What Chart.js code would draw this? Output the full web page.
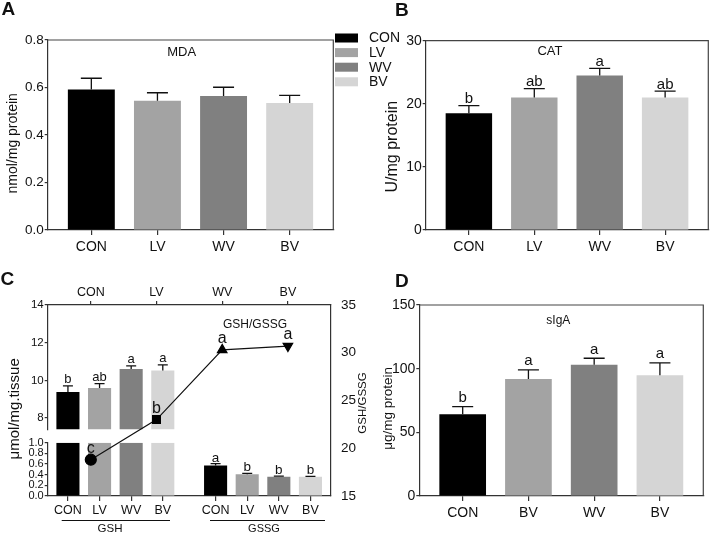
<!DOCTYPE html>
<html>
<head>
<meta charset="utf-8">
<script src="https://cdn.jsdelivr.net/npm/chart.js@4.4.1/dist/chart.umd.min.js"></script>
<style>
  html, body { margin: 0; padding: 0; background: #fff; }
  #wrap { position: relative; width: 711px; height: 533px; }
  #wrap canvas { position: absolute; left: 0; top: 0; }
</style>
</head>
<body>
<div id="wrap">
  <canvas id="chartA" width="711" height="533"></canvas>
  <canvas id="chartB" width="711" height="533"></canvas>
  <canvas id="chartC" width="711" height="533"></canvas>
  <canvas id="chartD" width="711" height="533"></canvas>
</div>
<script>
// Группы и цвета
const groups = ["CON", "LV", "WV", "BV"];
const groupsD = ["CON", "BV", "WV", "BV"];
const barColors = ["#000000", "#a3a3a3", "#808080", "#d5d5d5"];

// A: MDA
const mdaMean = [0.592, 0.544, 0.564, 0.535];
const mdaErr = [0.047, 0.034, 0.037, 0.032];

// B: CAT
const catMean = [18.5, 21.0, 24.5, 21.0];
const catErr = [1.2, 1.4, 1.1, 1.0];
const catLetters = ["b", "ab", "a", "ab"];

// C: GSH, GSSG и отношение GSH/GSSG
const gshMean = [9.38, 9.59, 10.6, 10.52];
const gshErr = [0.33, 0.24, 0.17, 0.30];
const gshLetters = ["b", "ab", "a", "a"];
const gssgMean = [0.575, 0.41, 0.36, 0.36];
const gssgErr = [0.035, 0.015, 0.015, 0.01];
const gssgLetters = ["a", "b", "b", "b"];
const ratio = [18.8, 23.0, 30.3, 30.7];
const ratioLetters = ["c", "b", "a", "a"];
const gshTopTicks = [8, 10, 12, 14];
const gshBotTicks = [0, 0.2, 0.4, 0.6, 0.8, 1.0];

// D: sIgA
const igaMean = [64.2, 91.9, 103.1, 94.8];
const igaErr = [6.0, 7.1, 5.1, 9.7];
const igaLetters = ["b", "a", "a", "a"];

const FONT = 'Arial, "Liberation Sans", Helvetica, sans-serif';
const AXIS = "#333";
const gssgShift = 4.67; // разрыв между группами GSH и GSSG на панели C

Chart.defaults.font.family = FONT;
Chart.defaults.color = "#111";
Chart.defaults.animation = false;
Chart.defaults.responsive = false;
Chart.defaults.plugins.legend.display = false;
Chart.defaults.plugins.tooltip.enabled = false;

// Ось категорий на линейной шкале
function catAxis(labels, positions, lo, hi, o) {
    return {
        type: "linear", position: o.position || "bottom", min: lo, max: hi, offset: false,
        afterBuildTicks: s => { s.ticks = positions.map(v => ({ value: v })); },
        afterFit: s => { s.height = o.height; },
        ticks: { autoSkip: false, maxRotation: 0, padding: o.pad, font: { size: o.size }, callback: (v, i) => labels[i] },
        grid: { offset: false, drawOnChartArea: false, tickLength: o.tick, color: AXIS, lineWidth: 1.2 },
        border: { color: AXIS, width: 1.2 }
    };
}

// Ось значений
function valAxis(o) {
    return {
        type: "linear", position: o.position || "left", min: o.min, max: o.max, beginAtZero: false,
        stack: o.stack, stackWeight: o.stackWeight, weight: o.weight || 0,
        afterFit: s => { s.width = o.width; },
        afterBuildTicks: o.tickValues ? s => { s.ticks = o.tickValues.map(v => ({ value: v })); } : undefined,
        ticks: { display: o.showTicks !== false, autoSkip: false, padding: o.pad, stepSize: o.step, font: { size: o.size }, callback: o.fmt },
        grid: { display: o.grid !== false, drawOnChartArea: false, drawTicks: o.tick > 0, tickLength: o.tick || 0, color: AXIS, lineWidth: 1.2 },
        border: { display: o.border !== false, color: AXIS, width: 1.2 }
    };
}

// Планки погрешностей и буквы значимости
const errorBars = {
    id: "errorBars",
    afterDatasetsDraw(chart) {
        const ctx = chart.ctx;
        chart.data.datasets.forEach((ds, di) => {
            if (!ds.errors && !ds.letters) return;
            const meta = chart.getDatasetMeta(di);
            const ys = chart.scales[meta.yAxisID];
            ctx.save();
            ctx.strokeStyle = "#111";
            ctx.lineWidth = 1.3;
            meta.data.forEach((el, i) => {
                let top = el.y;
                if (ds.errors) {
                    top = ys.getPixelForValue(ds.data[i].y + ds.errors[i]);
                    const half = ds.capWidth / 2;
                    ctx.beginPath();
                    ctx.moveTo(el.x, el.y);
                    ctx.lineTo(el.x, top);
                    ctx.moveTo(el.x - half, top);
                    ctx.lineTo(el.x + half, top);
                    ctx.stroke();
                }
                if (ds.letters) {
                    ctx.fillStyle = "#111";
                    ctx.font = ds.letterSize + "px " + FONT;
                    ctx.textAlign = "center";
                    ctx.textBaseline = "alphabetic";
                    ctx.fillText(ds.letters[i], el.x, top - ds.letterGap);
                }
            });
            ctx.restore();
        });
    }
};

// Обрезка столбцов по сегменту разорванной оси
const segmentClip = {
    id: "segmentClip",
    beforeDatasetDraw(chart, args) {
        const ds = chart.data.datasets[args.index];
        if (!ds.segment) return;
        const s = chart.scales[ds.yAxisID];
        const a = chart.chartArea;
        chart.ctx.save();
        chart.ctx.beginPath();
        chart.ctx.rect(a.left, s.top, a.right - a.left, s.bottom - s.top);
        chart.ctx.clip();
    },
    afterDatasetDraw(chart, args) {
        if (chart.data.datasets[args.index].segment) chart.ctx.restore();
    }
};

// Верхняя и правая рамка
const framePlugin = {
    id: "frame",
    afterDraw(chart) {
        const a = chart.chartArea, ctx = chart.ctx;
        ctx.save();
        ctx.strokeStyle = "#444";
        ctx.lineWidth = 1.2;
        ctx.beginPath();
        ctx.moveTo(a.left, a.top);
        ctx.lineTo(a.right, a.top);
        ctx.lineTo(a.right, a.bottom);
        ctx.stroke();
        ctx.restore();
    }
};

// Подписи: заголовки, оси, буквы панелей, линии групп
function textPlugin(items, lines) {
    return {
        id: "texts",
        afterDraw(chart) {
            const ctx = chart.ctx;
            ctx.save();
            ctx.fillStyle = "#111";
            items.forEach(it => {
                ctx.save();
                ctx.font = (it.bold ? "bold " : "") + it.size + "px " + FONT;
                ctx.textAlign = it.align || "center";
                ctx.textBaseline = it.base || "alphabetic";
                ctx.translate(it.x, it.y);
                if (it.rot) ctx.rotate(it.rot * Math.PI / 180);
                ctx.fillText(it.t, 0, 0);
                ctx.restore();
            });
            ctx.strokeStyle = "#111";
            ctx.lineWidth = 1.2;
            (lines || []).forEach(l => {
                ctx.beginPath();
                ctx.moveTo(l[0], l[1]);
                ctx.lineTo(l[2], l[3]);
                ctx.stroke();
            });
            ctx.restore();
        }
    };
}

// Легенда групп (рядом с панелью A)
const groupLegend = {
    id: "groupLegend",
    afterDraw(chart) {
        const ctx = chart.ctx;
        ctx.save();
        ctx.font = "14px " + FONT;
        ctx.textAlign = "left";
        ctx.textBaseline = "middle";
        groups.forEach((g, i) => {
            const y = 33.5 + i * 14.6;
            ctx.fillStyle = barColors[i];
            ctx.fillRect(335, y, 23, 9);
            ctx.fillStyle = "#111";
            ctx.fillText(g, 369, y + 5);
        });
        ctx.restore();
    }
};

function barPanel(id, c) {
    const pos = c.labels.map((l, i) => i);
    return new Chart(document.getElementById(id), {
        type: "bar",
        data: {
            datasets: [{
                data: c.values.map((v, i) => ({ x: i, y: v })),
                backgroundColor: barColors,
                grouped: false, categoryPercentage: 1, barPercentage: 0.71,
                errors: c.errors, letters: c.letters, capWidth: 21,
                letterSize: 15, letterGap: c.letterGap || 3
            }]
        },
        options: {
            layout: { padding: c.padding },
            scales: {
                x: catAxis(c.labels, pos, -0.66, c.labels.length - 1 + 0.66, { height: 30, pad: 3.5, tick: 5, size: 14 }),
                y: valAxis({ min: 0, max: c.max, step: c.step, fmt: c.fmt, width: 40, pad: 1, tick: 3, size: c.tickSize || 14 })
            }
        },
        plugins: [errorBars, framePlugin, textPlugin(c.texts)].concat(c.extra || [])
    });
}

// Панель A
barPanel("chartA", {
    labels: groups, values: mdaMean, errors: mdaErr, max: 0.8, step: 0.2, tickSize: 13.5,
    fmt: v => v.toFixed(1),
    padding: { left: 7.7, right: 377.7, top: 40, bottom: 273 },
    texts: [
        { t: "A", x: 1.5, y: 15, size: 19, bold: true, align: "left" },
        { t: "MDA", x: 181.7, y: 56.3, size: 13 },
        { t: "nmol/mg protein", x: 13.3, y: 143.3, size: 14, rot: -90, base: "middle" }
    ],
    extra: [groupLegend]
});

// Панель B
barPanel("chartB", {
    labels: groups, values: catMean, errors: catErr, letters: catLetters, letterGap: 2.5,
    max: 30, step: 10, fmt: v => v,
    padding: { left: 385.7, right: 2.7, top: 40.7, bottom: 273 },
    texts: [
        { t: "B", x: 395, y: 16, size: 19, bold: true, align: "left" },
        { t: "CAT", x: 550, y: 54.7, size: 13 },
        { t: "U/mg protein", x: 393, y: 146.7, size: 16, rot: -90, base: "middle" }
    ]
});

// Панель D
barPanel("chartD", {
    labels: groupsD, values: igaMean, errors: igaErr, letters: igaLetters, letterGap: 4.5,
    max: 150, step: 50, fmt: v => v,
    padding: { left: 379.3, right: 7.7, top: 305, bottom: 7 },
    texts: [
        { t: "D", x: 395, y: 287, size: 19, bold: true, align: "left" },
        { t: "sIgA", x: 558.3, y: 324, size: 12 },
        { t: "\u03bcg/mg protein", x: 388.3, y: 408.3, size: 13.5, rot: -90, base: "middle" }
    ]
});

// Панель C: разорванная ось и отношение GSH/GSSG
const idx = groups.map((g, i) => i);
const cPos = idx.concat(idx.map(i => i + gssgShift));
const cLabels = groups.concat(groups);

new Chart(document.getElementById("chartC"), {
    type: "bar",
    data: {
        datasets: [
            {
                type: "line", xAxisID: "x2", yAxisID: "yR", order: -1,
                data: ratio.map((v, i) => ({ x: i, y: v })),
                borderColor: "#111", borderWidth: 1.2, backgroundColor: "#000",
                pointStyle: ["circle", "rect", "triangle", "triangle"],
                rotation: [0, 0, 0, 180],
                pointRadius: 5.5, pointBackgroundColor: "#000", pointBorderColor: "#000",
                letters: ratioLetters, letterSize: 16, letterGap: 7
            },
            {
                xAxisID: "x", yAxisID: "yTop", segment: true,
                data: gshMean.map((v, i) => ({ x: cPos[i], y: v })),
                backgroundColor: barColors,
                grouped: false, categoryPercentage: 1, barPercentage: 0.73,
                errors: gshErr, letters: gshLetters, capWidth: 10, letterSize: 13, letterGap: 3
            },
            {
                xAxisID: "x", yAxisID: "yBot", segment: true,
                data: gshMean.map((v, i) => ({ x: cPos[i], y: v })),
                backgroundColor: barColors,
                grouped: false, categoryPercentage: 1, barPercentage: 0.73
            },
            {
                xAxisID: "x", yAxisID: "yBot", segment: true,
                data: gssgMean.map((v, i) => ({ x: cPos[i + 4], y: v })),
                backgroundColor: barColors,
                grouped: false, categoryPercentage: 1, barPercentage: 0.73,
                errors: gssgErr, letters: gssgLetters, capWidth: 10, letterSize: 13.5, letterGap: 2
            }
        ]
    },
    options: {
        layout: { padding: { left: 17.7, right: 340, top: 280, bottom: 12 } },
        scales: {
            x: catAxis(cLabels, cPos, -0.64, 3 + gssgShift + 0.65, { height: 25, pad: 2.5, tick: 5, size: 12.5 }),
            x2: catAxis(groups, idx, -0.656, 3.656, { position: "top", height: 25, pad: 1, tick: 4, size: 12.5 }),
            yTop: valAxis({ min: 7.4, max: 14, tickValues: gshTopTicks, fmt: v => v, stack: "left", stackWeight: 124.6, weight: 3, width: 30, pad: 1, tick: 3, size: 11.5 }),
            yGap: valAxis({ min: 0, max: 1, stack: "left", stackWeight: 13.4, weight: 2, width: 30, showTicks: false, grid: false, border: false }),
            yBot: valAxis({ min: 0, max: 1, tickValues: gshBotTicks, fmt: v => v.toFixed(1), stack: "left", stackWeight: 53.3, weight: 1, width: 30, pad: 1, tick: 3, size: 11 }),
            yR: valAxis({ position: "right", min: 15, max: 35, step: 5, fmt: v => v, width: 40, pad: 10, tick: 0, size: 13.5 })
        }
    },
    plugins: [segmentClip, errorBars, textPlugin([
        { t: "C", x: 0.5, y: 285, size: 19, bold: true, align: "left" },
        { t: "GSH/GSSG", x: 255, y: 327.6, size: 12 },
        { t: "\u03bcmol/mg.tissue", x: 15, y: 408.8, size: 15, rot: -90, base: "middle" },
        { t: "GSH/GSSG", x: 363, y: 403, size: 11.5, rot: -90, base: "middle" },
        { t: "GSH", x: 110, y: 532, size: 11.5 },
        { t: "GSSG", x: 264, y: 532, size: 11 }
    ], [
        [61.7, 520.5, 170, 520.5],
        [210, 520.5, 325, 520.5]
    ])]
});
</script>
</body>
</html>
